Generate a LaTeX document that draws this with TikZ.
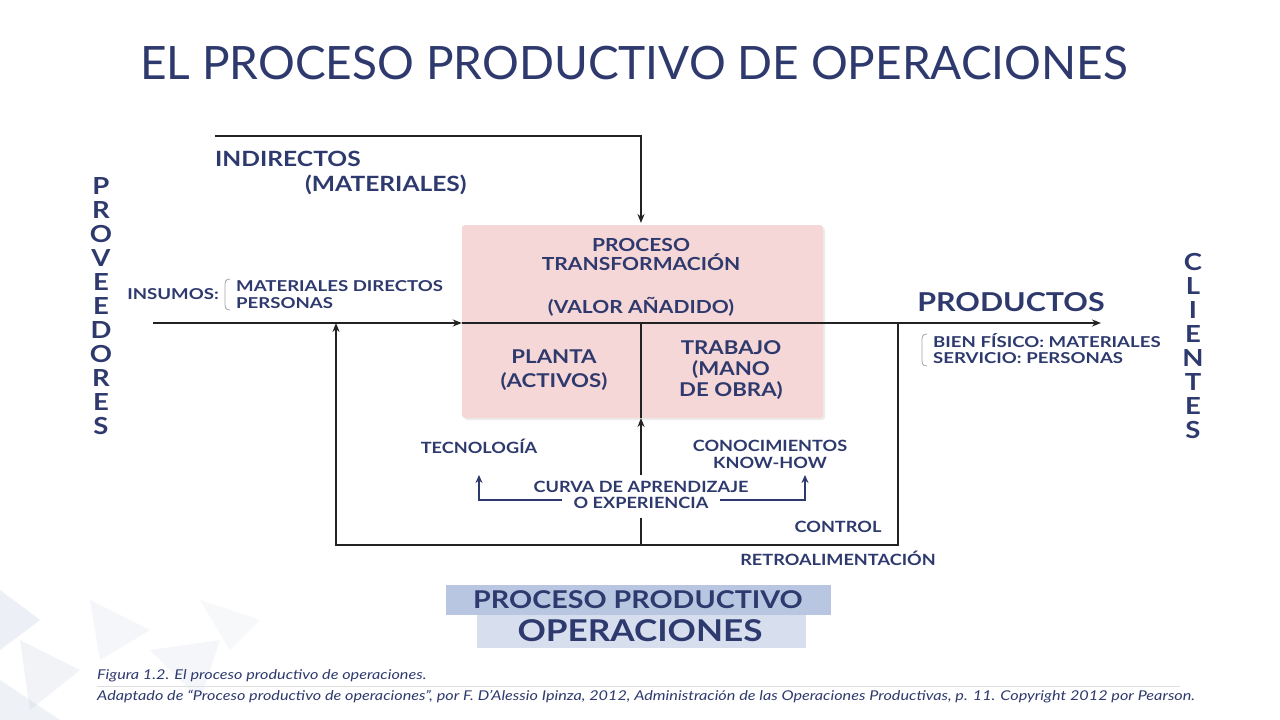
\documentclass[tikz,border=0pt]{standalone}
\usepackage{fontspec}
\setmainfont{Lato}
\newfontfamily\diag[FakeStretch=1.17]{Lato}
\newfontfamily\diagw[FakeStretch=1.24]{Lato}
\newfontfamily\capf[FakeStretch=1.2]{Lato}
\usetikzlibrary{arrows.meta,shadows}
\definecolor{navy}{HTML}{2E3A6E}
\definecolor{pinkbox}{HTML}{F6D7D7}
\definecolor{blueA}{HTML}{B9C6E1}
\definecolor{blueB}{HTML}{D7DFEF}
\definecolor{linec}{HTML}{222222}
\definecolor{tri}{HTML}{C9D3E3}
\begin{document}
\begin{tikzpicture}[x=1pt,y=-1pt,
  txt/.style={text=navy,inner sep=0pt,align=center,font=\diag\bfseries\fontsize{18}{19}\selectfont},
  small/.style={text=navy,inner sep=0pt,align=center,font=\diag\bfseries\fontsize{15.5}{17}\selectfont},
  smallw/.style={text=navy,inner sep=0pt,align=left,font=\diagw\bfseries\fontsize{15}{17}\selectfont},
  big/.style={text=navy,inner sep=0pt,align=center,font=\diag\bfseries\fontsize{21}{26}\selectfont},
  vert/.style={text=navy,inner sep=0pt,align=center,font=\diag\bfseries\fontsize{23.5}{24}\selectfont},
  flow/.style={draw=linec,line width=1.6pt},
  tip/.style={-{Stealth[length=9pt,width=7pt]}},
  bluearr/.style={draw=navy,line width=1.8pt,-{Stealth[length=8pt,width=7pt]}},
  brk/.style={draw=gray!70,line width=0.8pt}
]
\useasboundingbox (0,0) rectangle (1280,720);
\fill[white] (0,0) rectangle (1280,720);
% faint background triangles
\fill[tri,opacity=0.35] (0,590) -- (40,620) -- (0,650) -- cycle;
\fill[tri,opacity=0.25] (20,640) -- (80,670) -- (30,710) -- cycle;
\fill[tri,opacity=0.2] (90,600) -- (150,630) -- (100,660) -- cycle;
\fill[tri,opacity=0.2] (150,650) -- (220,640) -- (200,700) -- cycle;
\fill[tri,opacity=0.3] (0,680) -- (60,720) -- (0,720) -- cycle;
\fill[tri,opacity=0.15] (200,600) -- (260,620) -- (230,650) -- cycle;

% title
\node[text=navy,inner sep=0pt,font=\fontsize{46}{50}\selectfont] (title) at (634,63) {EL PROCESO PRODUCTIVO DE OPERACIONES};

% pink box
\node[fill=pinkbox,rounded corners=3pt,minimum width=361pt,minimum height=193pt,inner sep=0pt,
      drop shadow={shadow xshift=2pt,shadow yshift=-2pt,opacity=0.15}] (box) at (642.5,321.5) {};

% coordinates
\coordinate (inL) at (153,323);
\coordinate (boxW) at (box.west |- inL);
\coordinate (prodE) at (1101,323);
\coordinate (topL) at (215,136);
\coordinate (topR) at (641,136);
\coordinate (boxN) at (641,223);
\coordinate (midT) at (641,323);
\coordinate (midB) at (641,418);
\coordinate (midG1) at (641,475);
\coordinate (midG2) at (641,518);
\coordinate (midBot) at (641,545);
\coordinate (fbR) at (898,323);
\coordinate (fbRB) at (898,545);
\coordinate (fbLB) at (336,545);
\coordinate (fbL) at (336,323);

% flows
\draw[flow,tip] (inL) -- (boxW);
\draw[flow,tip] (boxW) -- (prodE);
\draw[flow,tip] (topL) -- (topR) -- (boxN);
\draw[flow] (midT) -- (midB);
\draw[flow,tip] (midG1) -- (midB);
\draw[flow] (midG2) -- (midBot);
\draw[flow,tip] (fbR) -- (fbRB) -- (fbLB) -- (fbL);

% box texts
\node[txt] (proc) at (641,254.5) {PROCESO\\TRANSFORMACIÓN};
\node[txt] (valor) at (641,307) {(VALOR AÑADIDO)};
\node[txt,font=\diag\bfseries\fontsize{19}{24}\selectfont] (planta) at (554,370) {PLANTA\\(ACTIVOS)};
\node[txt,font=\diag\bfseries\fontsize{19}{21}\selectfont] (trabajo) at (731,370) {TRABAJO\\(MANO\\DE OBRA)};

% lower texts
\node[small] (tecno) at (479,446) {TECNOLOGÍA};
\node[small] (conoc) at (770,454.5) {CONOCIMIENTOS\\KNOW-HOW};
\node[small,font=\diag\bfseries\fontsize{15.5}{16}\selectfont] (curva) at (641,495) {CURVA DE APRENDIZAJE\\O EXPERIENCIA};
\coordinate (cL) at (562,500);
\coordinate (cLc) at (479,500);
\coordinate (cLt) at (479,475);
\coordinate (cR) at (720,500);
\coordinate (cRc) at (805,500);
\coordinate (cRt) at (805,475);
\draw[bluearr] (cL) -- (cLc) -- (cLt);
\draw[bluearr] (cR) -- (cRc) -- (cRt);
\node[small] (control) at (838,527) {CONTROL};
\node[small] (retro) at (838,558) {RETROALIMENTACIÓN};

% left texts
\node[big,anchor=west] (indir) at (215,159) {INDIRECTOS};
\node[big,anchor=west] (mater) at (305,185) {(MATERIALES)};
\node[smallw,anchor=east] (insumos) at (219,294.5) {INSUMOS:};
\draw[brk] (230,279) .. controls (225,279) and (225,282) .. (225,287) -- (225,302) .. controls (225,307) and (225,310) .. (230,310);
\node[smallw,anchor=west] (insl) at (236,294.5) {MATERIALES DIRECTOS\\PERSONAS};

% right texts
\node[text=navy,inner sep=0pt,font=\diag\bfseries\fontsize{26}{30}\selectfont] (prod) at (1011,302) {PRODUCTOS};
\draw[brk] (927,334) .. controls (922,334) and (922,337) .. (922,342) -- (922,358) .. controls (922,363) and (922,366) .. (927,366);
\node[smallw,font=\diagw\bfseries\fontsize{15}{16}\selectfont,anchor=west] (bien) at (933,349) {BIEN FÍSICO: MATERIALES\\SERVICIO: PERSONAS};

% vertical words
\node[vert] (prov) at (101,306) {P\\R\\O\\V\\E\\E\\D\\O\\R\\E\\S};
\node[vert] (cli) at (1193,346) {C\\L\\I\\E\\N\\T\\E\\S};

% bottom boxes
\fill[blueA] (446,585) rectangle (831,615);
\fill[blueB] (477,615) rectangle (806,648);
\node[text=navy,inner sep=0pt,font=\diag\bfseries\fontsize{24.5}{26}\selectfont] (pp) at (638,600) {PROCESO PRODUCTIVO};
\node[text=navy,inner sep=0pt,font=\diag\bfseries\fontsize{30}{32}\selectfont] (op) at (640,631) {OPERACIONES};

% caption
\draw[gray!25,line width=0.6pt] (97,686) -- (1180,686);
\node[text=navy,inner sep=0pt,anchor=west,font=\capf\itshape\fontsize{13.5}{14}\selectfont] (cap1) at (97,676) {Figura 1.2. El proceso productivo de operaciones.};
\node[text=navy,inner sep=0pt,anchor=west,font=\capf\itshape\fontsize{13.5}{14}\selectfont] (cap2) at (97,697) {Adaptado de “Proceso productivo de operaciones”, por F. D’Alessio Ipinza, 2012, Administración de las Operaciones Productivas, p. 11. Copyright 2012 por Pearson.};
\end{tikzpicture}
\end{document}
